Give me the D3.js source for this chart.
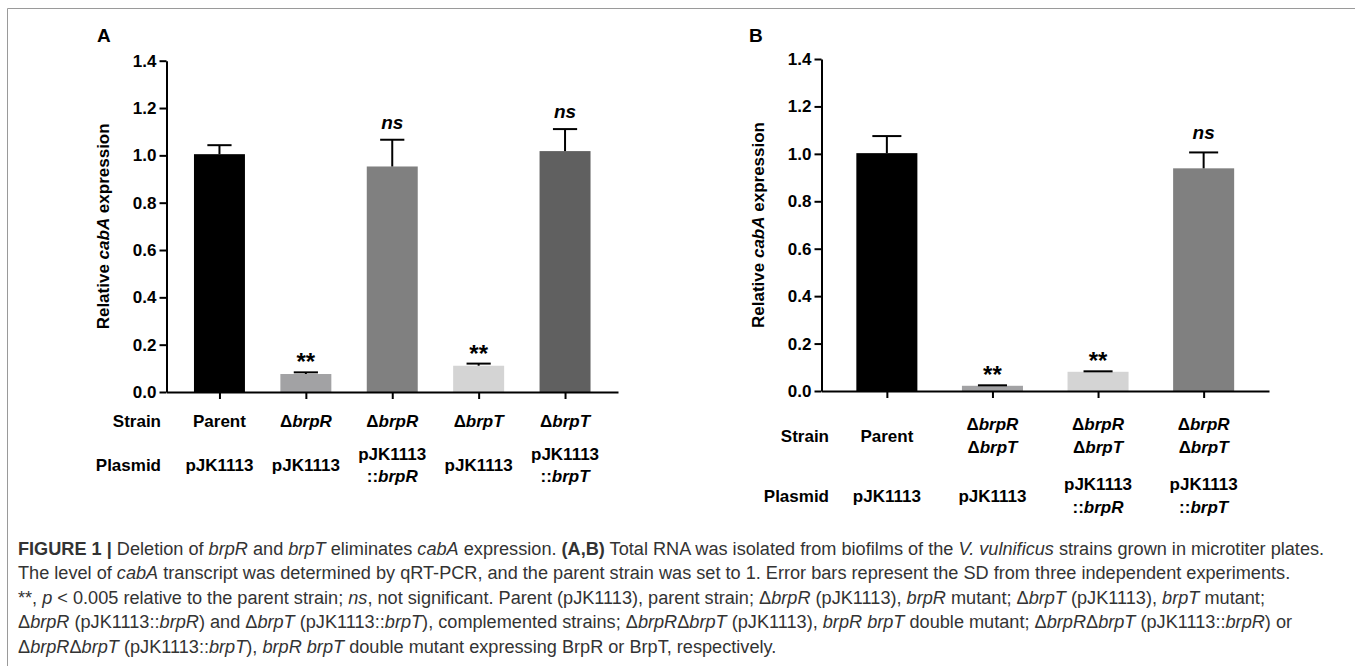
<!DOCTYPE html>
<html>
<head>
<meta charset="utf-8">
<script src="https://cdn.jsdelivr.net/npm/d3@7"></script>
<style>
  html, body { margin: 0; padding: 0; background: #fff; }
  svg { display: block; }
  text { font-family: "Liberation Sans", Arial, sans-serif; white-space: pre; }
</style>
</head>
<body>
<svg id="fig" width="1355" height="666"></svg>
<script>
// values (relative cabA expression, mean and SD)
const valuesA = [1.005, 0.076, 0.953, 0.111, 1.018];
const errorsA = [0.038, 0.007, 0.113, 0.009, 0.093];
const marksA = ["", "**", "ns", "**", "ns"];
const strainA = [["Parent"], ["Δ<i>brpR</i>"], ["Δ<i>brpR</i>"], ["Δ<i>brpT</i>"], ["Δ<i>brpT</i>"]];
const plasmidA = [["pJK1113"], ["pJK1113"], ["pJK1113", "::<i>brpR</i>"], ["pJK1113"], ["pJK1113", "::<i>brpT</i>"]];

const valuesB = [1.003, 0.022, 0.081, 0.939];
const errorsB = [0.072, 0.002, 0.002, 0.067];
const marksB = ["", "**", "**", "ns"];
const strainB = [["Parent"], ["Δ<i>brpR</i>", "Δ<i>brpT</i>"], ["Δ<i>brpR</i>", "Δ<i>brpT</i>"], ["Δ<i>brpR</i>", "Δ<i>brpT</i>"]];
const plasmidB = [["pJK1113"], ["pJK1113"], ["pJK1113", "::<i>brpR</i>"], ["pJK1113", "::<i>brpT</i>"]];

const yTicks = [0, 0.2, 0.4, 0.6, 0.8, 1.0, 1.2, 1.4];

const captionLines = [
  "<b>FIGURE 1 |</b> Deletion of <i>brpR</i> and <i>brpT</i> eliminates <i>cabA</i> expression. <b>(A,B)</b> Total RNA was isolated from biofilms of the <i>V. vulnificus</i> strains grown in microtiter plates.",
  "The level of <i>cabA</i> transcript was determined by qRT-PCR, and the parent strain was set to 1. Error bars represent the SD from three independent experiments.",
  "**, <i>p</i> < 0.005 relative to the parent strain; <i>ns</i>, not significant. Parent (pJK1113), parent strain; Δ<i>brpR</i> (pJK1113), <i>brpR</i> mutant; Δ<i>brpT</i> (pJK1113), <i>brpT</i> mutant;",
  "Δ<i>brpR</i> (pJK1113::<i>brpR</i>) and Δ<i>brpT</i> (pJK1113::<i>brpT</i>), complemented strains; Δ<i>brpR</i>Δ<i>brpT</i> (pJK1113), <i>brpR brpT</i> double mutant; Δ<i>brpR</i>Δ<i>brpT</i> (pJK1113::<i>brpR</i>) or",
  "Δ<i>brpR</i>Δ<i>brpT</i> (pJK1113::<i>brpT</i>), <i>brpR brpT</i> double mutant expressing BrpR or BrpT, respectively."
];

// bar fills
const fillsA = ["#000000", "#a2a2a4", "#808080", "#d4d4d4", "#606060"];
const fillsB = ["#000000", "#a2a2a4", "#d4d4d4", "#808080"];

const svg = d3.select("#fig");

// little helper: text with <i>/<b> markup -> tspans
function rich(sel, str) {
  let it = false, bd = false;
  str.split(/(<\/?[ib]>)/).forEach(part => {
    if (part === "<i>") it = true;
    else if (part === "</i>") it = false;
    else if (part === "<b>") bd = true;
    else if (part === "</b>") bd = false;
    else if (part) {
      sel.append("tspan")
        .attr("font-style", it ? "italic" : null)
        .attr("font-weight", bd ? "bold" : null)
        .text(part);
    }
  });
  return sel;
}

// frame
svg.append("path")
  .attr("d", "M7.5,666V8.5H1355")
  .attr("fill", "none")
  .attr("stroke", "#9a9a9a")
  .attr("stroke-width", 1);

function drawPanel(cfg) {
  const g = svg.append("g");

  const x = d3.scalePoint()
    .domain(d3.range(cfg.values.length))
    .range([cfg.x0, cfg.x1])
    .padding(cfg.pad);

  const y = d3.scaleLinear()
    .domain([0, 1.4])
    .range([cfg.yBottom, cfg.yTop]);

  const bw = x.step() * cfg.barFrac;
  const cw = x.step() * cfg.capFrac;

  // bars
  g.selectAll("rect.bar")
    .data(cfg.values)
    .join("rect")
      .attr("class", "bar")
      .attr("x", (d, i) => x(i) - bw / 2)
      .attr("y", d => y(d))
      .attr("width", bw)
      .attr("height", d => y(0) - y(d))
      .attr("fill", (d, i) => cfg.fills[i]);

  // error bars (upper only)
  const eb = g.selectAll("g.err")
    .data(cfg.values)
    .join("g")
      .attr("class", "err")
      .attr("stroke", "#000")
      .attr("stroke-width", 2);
  eb.append("line")
    .attr("x1", (d, i) => x(i)).attr("x2", (d, i) => x(i))
    .attr("y1", d => y(d))
    .attr("y2", (d, i) => y(d + cfg.errors[i]));
  eb.append("line")
    .attr("x1", (d, i) => x(i) - cw / 2).attr("x2", (d, i) => x(i) + cw / 2)
    .attr("y1", (d, i) => y(d + cfg.errors[i]))
    .attr("y2", (d, i) => y(d + cfg.errors[i]));

  // significance marks
  g.selectAll("text.mark")
    .data(cfg.marks)
    .join("text")
      .attr("class", "mark")
      .attr("x", (d, i) => x(i))
      .attr("y", (d, i) => y(cfg.values[i] + cfg.errors[i]) - (d === "ns" ? cfg.nsGap : 2))
      .attr("text-anchor", "middle")
      .attr("font-weight", "bold")
      .attr("font-style", d => d === "ns" ? "italic" : null)
      .attr("font-size", d => d === "ns" ? 19 : 24)
      .text(d => d);

  // axes
  const yAxis = g.append("g")
    .attr("transform", `translate(${cfg.x0},0)`)
    .call(d3.axisLeft(y)
      .tickValues(yTicks)
      .tickFormat(d3.format(".1f"))
      .tickSize(7)
      .tickSizeOuter(0)
      .tickPadding(3));

  const xAxis = g.append("g")
    .attr("transform", `translate(0,${cfg.yBottom})`)
    .call(d3.axisBottom(x)
      .tickFormat("")
      .tickSize(7)
      .tickSizeOuter(0));

  [yAxis, xAxis].forEach(a => {
    a.select(".domain").attr("stroke", "#000").attr("stroke-width", 2);
    a.selectAll(".tick line").attr("stroke", "#000").attr("stroke-width", 2);
    a.selectAll(".tick text")
      .attr("font-family", "Liberation Sans, Arial, sans-serif")
      .attr("font-size", 17)
      .attr("font-weight", "bold")
      .attr("fill", "#000");
  });

  // y label
  rich(g.append("text")
    .attr("transform", `translate(${cfg.labelX},${(cfg.yBottom + cfg.yTop) / 2}) rotate(-90)`)
    .attr("text-anchor", "middle")
    .attr("font-size", 17)
    .attr("font-weight", "bold"),
    "Relative <i>cabA</i> expression");

  // panel letter
  g.append("text")
    .attr("x", cfg.letterX)
    .attr("y", 42)
    .attr("font-size", 19)
    .attr("font-weight", "bold")
    .text(cfg.letter);

  // category rows
  function row(labels, title, cy, lh) {
    g.append("text")
      .attr("x", cfg.rowLabelX)
      .attr("y", cy + 6)
      .attr("text-anchor", "end")
      .attr("font-size", 17)
      .attr("font-weight", "bold")
      .text(title);
    labels.forEach((lines, i) => {
      lines.forEach((ln, j) => {
        rich(g.append("text")
          .attr("x", x(i))
          .attr("y", cy + 6 + (j - (lines.length - 1) / 2) * lh)
          .attr("text-anchor", "middle")
          .attr("font-size", 17)
          .attr("font-weight", "bold"), ln);
      });
    });
  }
  row(cfg.strain, "Strain", cfg.strainY, cfg.lh);
  row(cfg.plasmid, "Plasmid", cfg.plasmidY, cfg.lh);
}

drawPanel({
  letter: "A", letterX: 97,
  values: valuesA, errors: errorsA, marks: marksA, fills: fillsA,
  strain: strainA, plasmid: plasmidA,
  x0: 166.5, x1: 618, pad: 0.613, barFrac: 0.59, capFrac: 0.28,
  yBottom: 392, yTop: 60.7, labelX: 109, rowLabelX: 161,
  strainY: 421, plasmidY: 465, lh: 22, nsGap: 11
});

drawPanel({
  letter: "B", letterX: 749,
  values: valuesB, errors: errorsB, marks: marksB, fills: fillsB,
  strain: strainB, plasmid: plasmidB,
  x0: 821.5, x1: 1269, pad: 0.619, barFrac: 0.578, capFrac: 0.275,
  yBottom: 391, yTop: 59, labelX: 764, rowLabelX: 829,
  strainY: 435.5, plasmidY: 495.5, lh: 23, nsGap: 13
});

// caption, fitted to the width of the first line
const cap = svg.append("g").attr("fill", "#333");
const capTexts = captionLines.map((ln, i) =>
  rich(cap.append("text")
    .attr("x", 18)
    .attr("y", 555 + i * 24.4)
    .attr("font-size", 15), ln));
const w0 = capTexts[0].node().getComputedTextLength();
const fs = 15 * (1325 - 18) / w0;
capTexts.forEach(t => t.attr("font-size", fs));
</script>
</body>
</html>
